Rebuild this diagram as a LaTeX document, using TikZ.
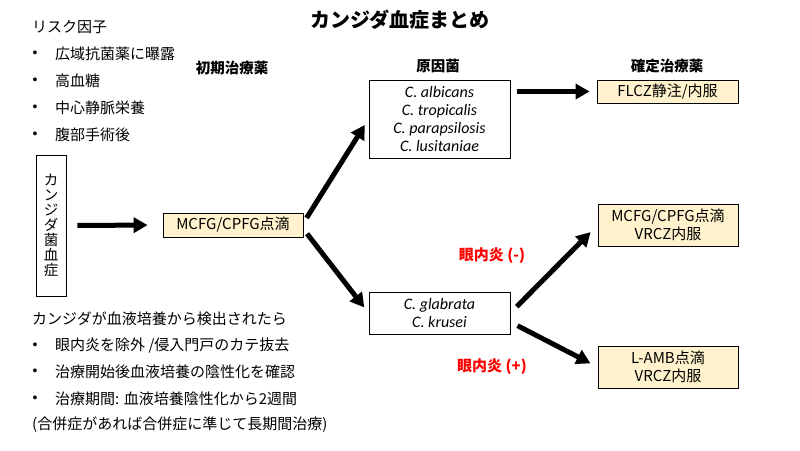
\documentclass[tikz,border=0pt]{standalone}
\usepackage{fontspec}
\setmainfont{Noto Sans CJK JP}
\newfontfamily\spfont{Carlito}
\newfontfamily\bulfont{Liberation Sans}
\usetikzlibrary{arrows.meta}
\definecolor{cream}{HTML}{FFF2CC}
\definecolor{redlbl}{HTML}{FF0000}
\begin{document}
\begin{tikzpicture}[x=1pt,y=-1pt,
  font=\fontsize{15}{18}\selectfont,
  box/.style={draw,line width=0.8pt,inner sep=0pt,align=center},
  drug/.style={box,fill=cream},
  species/.style={box,font=\fontsize{16}{18}\selectfont\spfont\itshape},
  bigarrow/.style={line width=5pt,-{Triangle[length=14pt,width=15pt]}},
  head/.style={font=\fontsize{14.5}{17}\selectfont\bfseries},
  txt/.style={anchor=west,inner sep=0pt},
  bul/.style={inner sep=0pt,font=\fontsize{14}{14}\bulfont},
  eye/.style={font=\fontsize{15}{17}\selectfont\bfseries,text=redlbl,inner sep=0pt}]
\useasboundingbox (0,0) rectangle (800,450);

% title
\node[font=\fontsize{20}{24}\selectfont\bfseries] (title) at (400,20) {カンジダ血症まとめ};

% headers
\node[head] (h1) at (232,68) {初期治療薬};
\node[head] (h2) at (438,66) {原因菌};
\node[head] (h3) at (667,66) {確定治療薬};

% risk factors
\node[txt] (rf) at (32,27) {リスク因子};
\node[bul] (b1) at (35,54) {•};
\node[txt] (r1) at (55,54) {広域抗菌薬に曝露};
\node[bul] (b2) at (35,81) {•};
\node[txt] (r2) at (55,81) {高血糖};
\node[bul] (b3) at (35,108) {•};
\node[txt] (r3) at (55,108) {中心静脈栄養};
\node[bul] (b4) at (35,135) {•};
\node[txt] (r4) at (55,135) {腹部手術後};

% vertical box
\node[box,minimum width=30pt,minimum height=141pt,font=\fontsize{14.5}{15}\selectfont] (vb) at (51,225.5)
  {カ\\ン\\ジ\\ダ\\菌\\血\\症};

% boxes
\node[drug,minimum width=140pt,minimum height=24pt] (mcfg) at (233,225) {MCFG/CPFG点滴};
\node[species,minimum width=141pt,minimum height=78pt] (sp1) at (439.5,119)
  {C. albicans\\C. tropicalis\\C. parapsilosis\\C. lusitaniae};
\node[drug,minimum width=141pt,minimum height=23pt] (flcz) at (667.5,91.5) {FLCZ静注/内服};
\node[species,minimum width=141pt,minimum height=42pt] (sp2) at (439.5,313)
  {C. glabrata\\C. krusei};
\node[drug,minimum width=140pt,minimum height=42pt] (d2) at (668,225) {MCFG/CPFG点滴\\VRCZ内服};
\node[drug,minimum width=140pt,minimum height=42pt] (d3) at (668,367) {L-AMB点滴\\VRCZ内服};

% arrows
\draw[bigarrow,shorten <=11pt,shorten >=15pt] (vb.east) -- (mcfg.west);
\draw[bigarrow,shorten <=6pt,shorten >=7pt] ([yshift=2pt]mcfg.east) -- (sp1.west);
\draw[bigarrow,shorten <=6pt,shorten >=7pt] ([yshift=-4pt]mcfg.east) -- (sp2.west);
\draw[bigarrow,shorten <=7pt,shorten >=7pt] (sp1.east |- flcz.west) -- (flcz.west);
\draw[bigarrow,shorten <=9pt,shorten >=10pt] (sp2.east) -- (d2.west);
\draw[bigarrow,shorten <=8pt,shorten >=8pt] ([yshift=-9pt]sp2.east) -- (d3.west);

% eye labels
\node[eye] (em) at (492,256) {眼内炎 (-)};
\node[eye] (ep) at (492,367) {眼内炎 (+)};

% bottom notes
\node[txt] (n0) at (32,319) {カンジダが血液培養から検出されたら};
\node[bul] (nb1) at (35,346) {•};
\node[txt] (n1) at (55,346) {眼内炎を除外 /侵入門戸のカテ抜去};
\node[bul] (nb2) at (35,372) {•};
\node[txt] (n2) at (55,372) {治療開始後血液培養の陰性化を確認};
\node[bul] (nb3) at (35,399) {•};
\node[txt] (n3) at (55,399) {治療期間: 血液培養陰性化から2週間};
\node[txt] (n4) at (32,425) {(合併症があれば合併症に準じて長期間治療)};
\end{tikzpicture}
\end{document}
